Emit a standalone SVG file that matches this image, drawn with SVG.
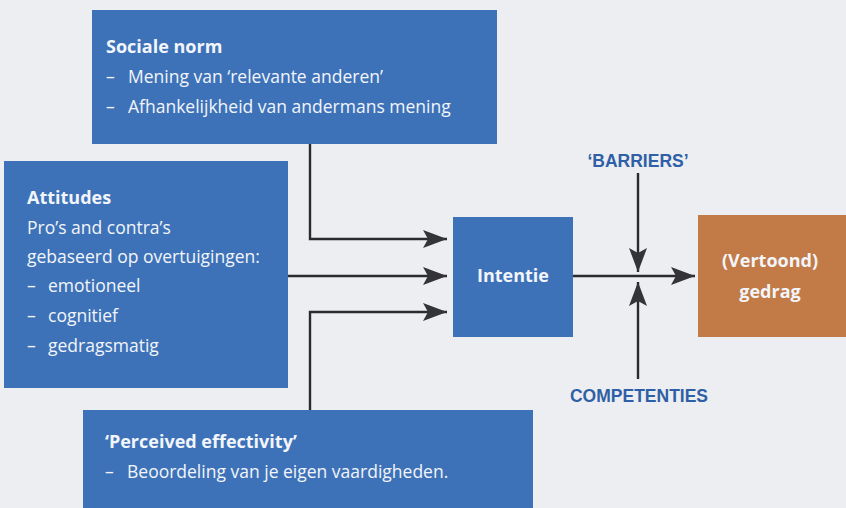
<svg xmlns="http://www.w3.org/2000/svg" width="846" height="508" viewBox="0 0 846 508">
  <style>
    .box { fill: #3e72b8; }
    .out { fill: #c27a46; }
    .t { font-family: "Open Sans", "Liberation Sans", Arial, sans-serif; font-size: 17.5px; fill: #f2f5fa; }
    .b { font-weight: bold; font-size: 18px; }
    .lbl { font-family: "Liberation Sans", Arial, sans-serif; font-size: 17.5px; font-weight: bold; fill: #2f5fa6; }
    .wire { fill: none; stroke: #2b2b2e; stroke-width: 2.4; }
  </style>
  <defs>
    <marker id="arr" viewBox="0 0 24 18" refX="24" refY="9" markerWidth="24" markerHeight="18" markerUnits="userSpaceOnUse" orient="auto">
      <path d="M0,0 L24,9 L0,18 L5,9 Z" fill="#333338"/>
    </marker>
  </defs>
  <rect width="846" height="508" fill="#eceef1"/>

  <g id="sociale-norm">
    <rect class="box" x="92" y="10" width="405" height="134"/>
    <text class="t b" x="106" y="53">Sociale norm</text>
    <text class="t" x="106" y="83">–</text>
    <text class="t" x="128" y="83">Mening van ‘relevante anderen’</text>
    <text class="t" x="106" y="113">–</text>
    <text class="t" x="128" y="113">Afhankelijkheid van andermans mening</text>
  </g>

  <g id="attitudes">
    <rect class="box" x="4" y="161" width="284" height="227"/>
    <text class="t b" x="27" y="204">Attitudes</text>
    <text class="t" x="27" y="234">Pro’s and contra’s</text>
    <text class="t" x="27" y="263">gebaseerd op overtuigingen:</text>
    <text class="t" x="27" y="292">–</text>
    <text class="t" x="48" y="292">emotioneel</text>
    <text class="t" x="27" y="322">–</text>
    <text class="t" x="48" y="322">cognitief</text>
    <text class="t" x="27" y="352">–</text>
    <text class="t" x="48" y="352">gedragsmatig</text>
  </g>

  <g id="perceived-effectivity">
    <rect class="box" x="83" y="410" width="450" height="98"/>
    <text class="t b" x="105" y="448">‘Perceived effectivity’</text>
    <text class="t" x="105" y="478">–</text>
    <text class="t" x="127" y="478">Beoordeling van je eigen vaardigheden.</text>
  </g>

  <g id="intentie">
    <rect class="box" x="453" y="217" width="120" height="120"/>
    <text class="t b" x="513" y="282" text-anchor="middle">Intentie</text>
  </g>

  <g id="gedrag">
    <rect class="out" x="698" y="215" width="148" height="122"/>
    <text class="t b" x="770" y="267" text-anchor="middle">(Vertoond)</text>
    <text class="t b" x="770" y="298" text-anchor="middle">gedrag</text>
  </g>

  <g id="barriers">
    <text class="lbl" x="638" y="167" text-anchor="middle">‘BARRIERS’</text>
  </g>

  <g id="competenties">
    <text class="lbl" x="639" y="402" text-anchor="middle">COMPETENTIES</text>
  </g>

  <g id="connectors">
    <path class="wire" d="M310,144 V239 H447" marker-end="url(#arr)"/>
    <path class="wire" d="M288,276 H447" marker-end="url(#arr)"/>
    <path class="wire" d="M310,410 V312 H447" marker-end="url(#arr)"/>
    <path class="wire" d="M573,276 H695" marker-end="url(#arr)"/>
    <path class="wire" d="M638,173 V272" marker-end="url(#arr)"/>
    <path class="wire" d="M638,379 V282" marker-end="url(#arr)"/>
  </g>
</svg>
